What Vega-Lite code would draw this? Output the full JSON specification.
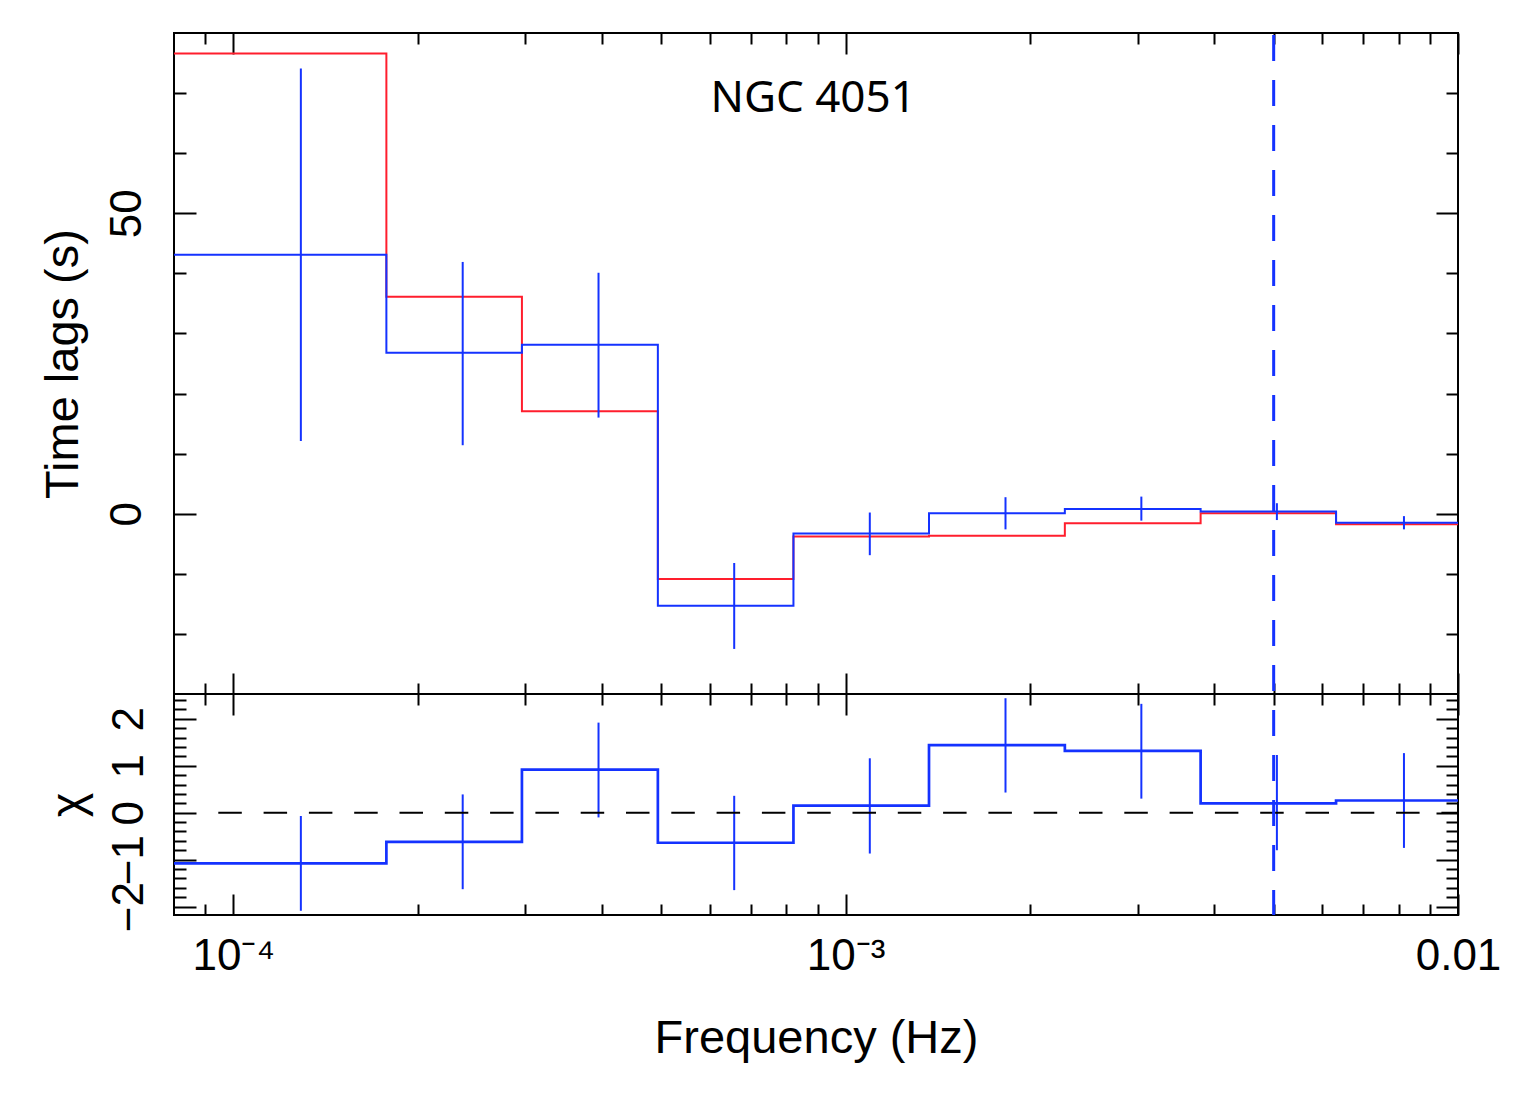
{
  "$schema": "https://vega.github.io/schema/vega-lite/v6.json",
  "padding": {"left": 38, "top": 30, "right": 5, "bottom": 5},
  "background": "white",
  "config": {
    "view": {"stroke": "black", "strokeWidth": 2},
    "axis": {
      "domain": false, "grid": false, "ticks": true,
      "tickColor": "black", "tickWidth": 2,
      "labelFont": "Liberation Sans", "labelFontSize": 44, "labelColor": "black",
      "titleFont": "Liberation Sans", "titleFontSize": 47, "titleFontWeight": "normal", "titleColor": "black",
      "labelFlush": false, "labelOverlap": false, "labels": false
    }
  },
  "datasets": {
    "bins": [
      {"bin":1,"f0":0.00008,"f1":0.0001778,"fc":0.0001289,"lag":43.1,"lag_lo":12.1,"lag_hi":74.1,"model":76.6,"chi":-1.08,"chi_lo":-2.09,"chi_hi":-0.07},
      {"bin":2,"f0":0.0001778,"f1":0.000296,"fc":0.0002369,"lag":26.8,"lag_lo":11.4,"lag_hi":41.9,"model":36.1,"chi":-0.62,"chi_lo":-1.63,"chi_hi":0.39},
      {"bin":3,"f0":0.000296,"f1":0.0004935,"fc":0.0003948,"lag":28.1,"lag_lo":16.0,"lag_hi":40.1,"model":17.05,"chi":0.92,"chi_lo":-0.1,"chi_hi":1.92},
      {"bin":4,"f0":0.0004935,"f1":0.0008217,"fc":0.0006576,"lag":-15.3,"lag_lo":-22.5,"lag_hi":-8.2,"model":-10.85,"chi":-0.64,"chi_lo":-1.65,"chi_hi":0.36},
      {"bin":5,"f0":0.0008217,"f1":0.001368,"fc":0.001095,"lag":-3.3,"lag_lo":-6.9,"lag_hi":0.2,"model":-3.8,"chi":0.15,"chi_lo":-0.87,"chi_hi":1.16},
      {"bin":6,"f0":0.001368,"f1":0.00228,"fc":0.001824,"lag":0.1,"lag_lo":-2.6,"lag_hi":2.75,"model":-3.65,"chi":1.44,"chi_lo":0.43,"chi_hi":2.44},
      {"bin":7,"f0":0.00228,"f1":0.003799,"fc":0.00304,"lag":0.8,"lag_lo":-1.15,"lag_hi":2.85,"model":-1.6,"chi":1.32,"chi_lo":0.3,"chi_hi":2.32},
      {"bin":8,"f0":0.003799,"f1":0.006322,"fc":0.005061,"lag":0.35,"lag_lo":-1.05,"lag_hi":1.75,"model":0.1,"chi":0.2,"chi_lo":-0.8,"chi_hi":1.23},
      {"bin":9,"f0":0.006322,"f1":0.01,"fc":0.008161,"lag":-1.5,"lag_lo":-2.6,"lag_hi":-0.4,"model":-1.75,"chi":0.26,"chi_lo":-0.75,"chi_hi":1.27}
    ]
  },
  "spacing": 0,
  "bounds": "flush",
  "vconcat": [
    {
      "width": 1284,
      "height": 661,
      "resolve": {"axis": {"x": "independent", "y": "independent"}},
      "layer": [
        {
          "data": {"name": "bins"},
          "transform": [{"fold": ["f0", "f1"], "as": ["edge", "f"]}],
          "mark": {"type": "line", "color": "#ff1e2d", "strokeWidth": 2, "clip": true},
          "encoding": {
            "x": {"field": "f", "type": "quantitative", "scale": {"type": "log", "domain": [0.00008, 0.01], "nice": false},
                  "axis": {"orient": "bottom", "values": [0.0001, 0.001, 0.01], "tickSize": -21, "title": null}},
            "y": {"field": "model", "type": "quantitative", "scale": {"domain": [-30, 80], "nice": false, "zero": false},
                  "axis": {"orient": "left", "values": [0, 50], "tickSize": -22, "labels": true, "labelAngle": -90, "labelAlign": "center", "labelBaseline": "alphabetic", "labelPadding": 56, "title": "Time lags (s)", "titlePadding": 18}},
            "order": [{"field": "bin", "type": "quantitative"}, {"field": "edge", "type": "ordinal"}]
          }
        },
        {
          "data": {"name": "bins"},
          "transform": [{"fold": ["f0", "f1"], "as": ["edge", "f"]}],
          "mark": {"type": "line", "color": "#1432ff", "strokeWidth": 2, "clip": true},
          "encoding": {
            "x": {"field": "f", "type": "quantitative", "scale": {"type": "log", "domain": [0.00008, 0.01], "nice": false},
                  "axis": {"orient": "bottom", "values": [0.00009, 0.0002, 0.0003, 0.0004, 0.0005, 0.0006, 0.0007, 0.0008, 0.0009, 0.002, 0.003, 0.004, 0.005, 0.006, 0.007, 0.008, 0.009], "tickSize": -11, "title": null}},
            "y": {"field": "lag", "type": "quantitative", "scale": {"domain": [-30, 80], "nice": false, "zero": false},
                  "axis": {"orient": "left", "values": [-20, -10, 10, 20, 30, 40, 60, 70], "tickSize": -12, "title": null}},
            "order": [{"field": "bin", "type": "quantitative"}, {"field": "edge", "type": "ordinal"}]
          }
        },
        {
          "data": {"name": "bins"},
          "mark": {"type": "rule", "color": "#1432ff", "strokeWidth": 2, "clip": true},
          "encoding": {
            "x": {"field": "fc", "type": "quantitative", "scale": {"type": "log", "domain": [0.00008, 0.01], "nice": false},
                  "axis": {"orient": "top", "values": [0.0001, 0.001, 0.01], "tickSize": -21, "title": null}},
            "y": {"field": "lag_lo", "type": "quantitative", "scale": {"domain": [-30, 80], "nice": false, "zero": false},
                  "axis": {"orient": "right", "values": [0, 50], "tickSize": -22, "title": null}},
            "y2": {"field": "lag_hi"}
          }
        },
        {
          "data": {"values": [{"label": "NGC 4051"}]},
          "mark": {"type": "text", "font": "Noto Sans", "fontSize": 44, "color": "black", "align": "center", "baseline": "alphabetic"},
          "encoding": {
            "x": {"datum": 0.000885, "type": "quantitative", "scale": {"type": "log", "domain": [0.00008, 0.01], "nice": false},
                  "axis": {"orient": "top", "values": [0.00009, 0.0002, 0.0003, 0.0004, 0.0005, 0.0006, 0.0007, 0.0008, 0.0009, 0.002, 0.003, 0.004, 0.005, 0.006, 0.007, 0.008, 0.009], "tickSize": -11, "title": null}},
            "y": {"datum": 66.8, "type": "quantitative", "scale": {"domain": [-30, 80], "nice": false, "zero": false},
                  "axis": {"orient": "right", "values": [-20, -10, 10, 20, 30, 40, 60, 70], "tickSize": -12, "title": null}},
            "text": {"field": "label"}
          }
        },
        {
          "data": {"values": [{"label": "break"}]},
          "mark": {"type": "rule", "color": "#1432ff", "strokeWidth": 3, "strokeDash": [26, 19], "strokeDashOffset": 43},
          "encoding": {
            "x": {"datum": 0.005, "type": "quantitative", "scale": {"type": "log", "domain": [0.00008, 0.01], "nice": false}, "axis": null}
          }
        }
      ]
    },
    {
      "width": 1284,
      "height": 221,
      "resolve": {"axis": {"x": "independent", "y": "independent"}},
      "layer": [
        {
          "data": {"name": "bins"},
          "transform": [{"fold": ["f0", "f1"], "as": ["edge", "f"]}],
          "mark": {"type": "line", "color": "#1432ff", "strokeWidth": 2.7, "clip": true},
          "encoding": {
            "x": {"field": "f", "type": "quantitative", "scale": {"type": "log", "domain": [0.00008, 0.01], "nice": false},
                  "axis": {"orient": "bottom", "values": [0.0001, 0.001, 0.01], "tickSize": -21, "labels": true, "labelBaseline": "alphabetic", "labelPadding": 75,
                           "labelExpr": "datum.value < 0.0005 ? '10⁻⁴' : datum.value < 0.005 ? '10⁻³' : '0.01'",
                           "title": "Frequency (Hz)", "titlePadding": 37}},
            "y": {"field": "chi", "type": "quantitative", "scale": {"domain": [-2.18, 2.53], "nice": false, "zero": false},
                  "axis": {"orient": "left", "values": [-2, -1, 0, 1, 2], "tickSize": -22, "labels": true, "labelAngle": -90, "labelAlign": "center", "labelBaseline": "alphabetic", "labelPadding": 54, "title": "χ", "titlePadding": 15}},
            "order": [{"field": "bin", "type": "quantitative"}, {"field": "edge", "type": "ordinal"}]
          }
        },
        {
          "data": {"name": "bins"},
          "mark": {"type": "rule", "color": "#1432ff", "strokeWidth": 2, "clip": true},
          "encoding": {
            "x": {"field": "fc", "type": "quantitative", "scale": {"type": "log", "domain": [0.00008, 0.01], "nice": false},
                  "axis": {"orient": "bottom", "values": [0.00009, 0.0002, 0.0003, 0.0004, 0.0005, 0.0006, 0.0007, 0.0008, 0.0009, 0.002, 0.003, 0.004, 0.005, 0.006, 0.007, 0.008, 0.009], "tickSize": -11, "title": null}},
            "y": {"field": "chi_lo", "type": "quantitative", "scale": {"domain": [-2.18, 2.53], "nice": false, "zero": false},
                  "axis": {"orient": "left", "values": [-1.8, -1.6, -1.4, -1.2, -0.8, -0.6, -0.4, -0.2, 0.2, 0.4, 0.6, 0.8, 1.2, 1.4, 1.6, 1.8, 2.2, 2.4], "tickSize": -12, "title": null}},
            "y2": {"field": "chi_hi"}
          }
        },
        {
          "data": {"values": [{"label": "zero"}]},
          "mark": {"type": "rule", "color": "black", "strokeWidth": 2, "strokeDash": [23.5, 21.8]},
          "encoding": {
            "x": {"datum": 0.0000945, "type": "quantitative", "scale": {"type": "log", "domain": [0.00008, 0.01], "nice": false},
                  "axis": {"orient": "top", "values": [0.0001, 0.001, 0.01], "tickSize": -21, "title": null}},
            "x2": {"datum": 0.01},
            "y": {"datum": 0, "type": "quantitative", "scale": {"domain": [-2.18, 2.53], "nice": false, "zero": false},
                  "axis": {"orient": "right", "values": [-2, -1, 0, 1, 2], "tickSize": -22, "title": null}}
          }
        },
        {
          "data": {"values": [{"label": "break"}]},
          "mark": {"type": "rule", "color": "#1432ff", "strokeWidth": 3, "strokeDash": [26, 19], "strokeDashOffset": 29},
          "encoding": {
            "x": {"datum": 0.005, "type": "quantitative", "scale": {"type": "log", "domain": [0.00008, 0.01], "nice": false},
                  "axis": {"orient": "top", "values": [0.00009, 0.0002, 0.0003, 0.0004, 0.0005, 0.0006, 0.0007, 0.0008, 0.0009, 0.002, 0.003, 0.004, 0.005, 0.006, 0.007, 0.008, 0.009], "tickSize": -11, "title": null}},
            "y": {"datum": 2.53, "type": "quantitative", "scale": {"domain": [-2.18, 2.53], "nice": false, "zero": false},
                  "axis": {"orient": "right", "values": [-1.8, -1.6, -1.4, -1.2, -0.8, -0.6, -0.4, -0.2, 0.2, 0.4, 0.6, 0.8, 1.2, 1.4, 1.6, 1.8, 2.2, 2.4], "tickSize": -12, "title": null}},
            "y2": {"datum": -2.18}
          }
        }
      ]
    }
  ]
}
